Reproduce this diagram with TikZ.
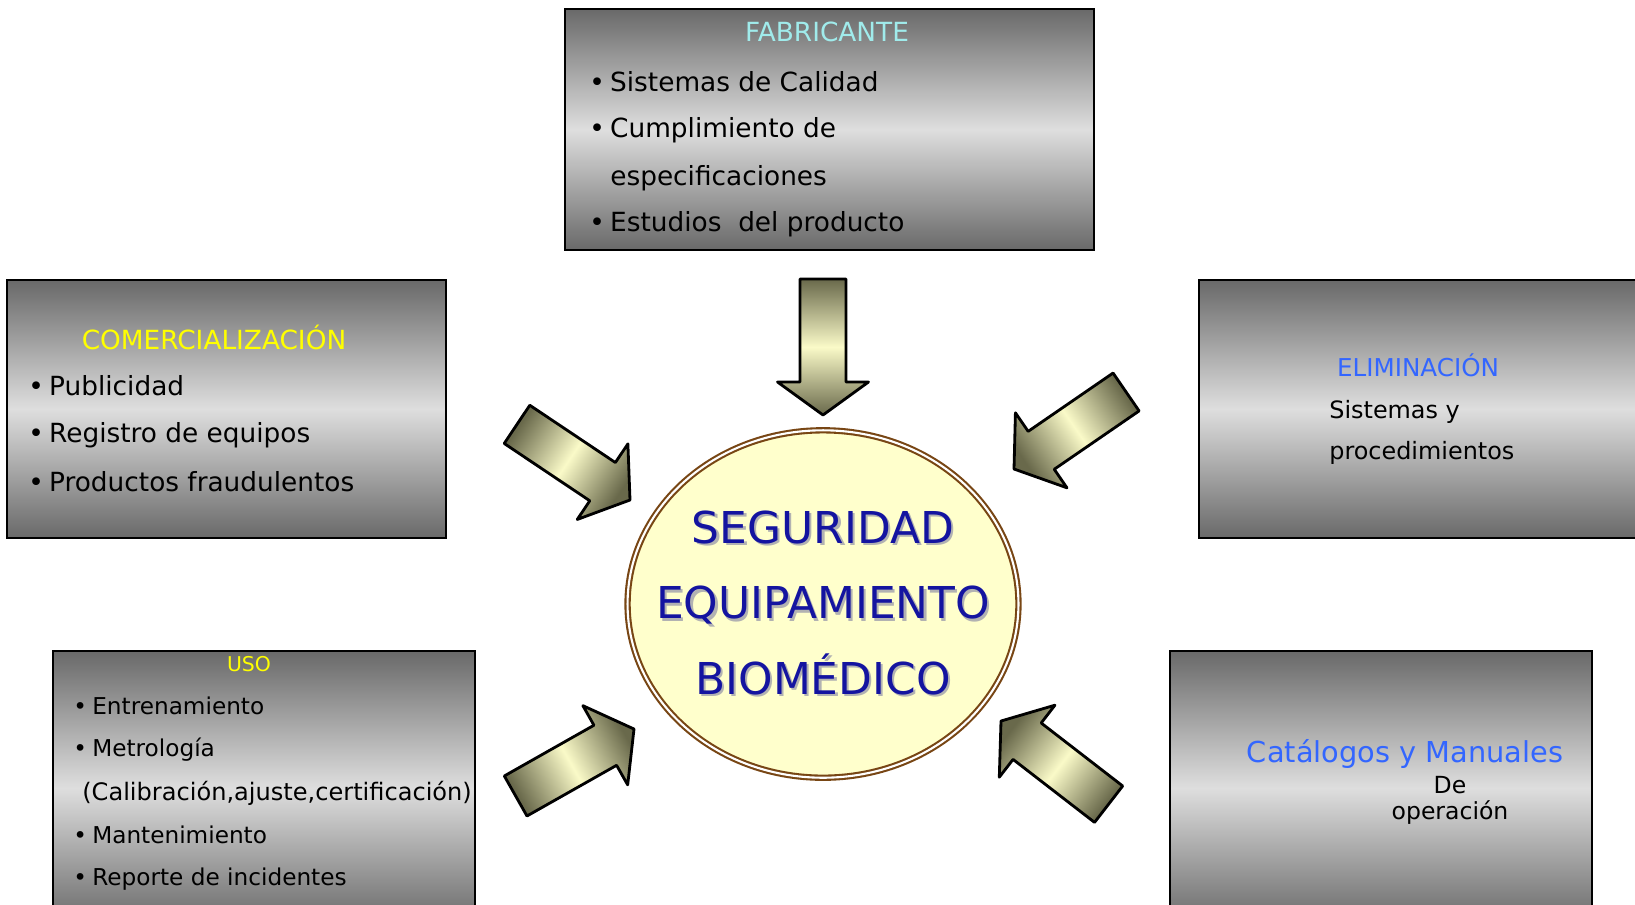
\documentclass[tikz,border=0pt]{standalone}
\usepackage{fontspec}
\setmainfont{DejaVu Sans}
\usepackage{xcolor}
\usepackage{tikz}
\usetikzlibrary{shapes.geometric}

\definecolor{cajaosc}{RGB}{105,105,105}
\definecolor{cajaclara}{RGB}{222,222,222}
\definecolor{fabtit}{RGB}{160,235,235}
\definecolor{amarillo}{RGB}{255,255,0}
\definecolor{azultit}{RGB}{51,102,255}
\definecolor{centroazul}{RGB}{20,20,160}
\definecolor{elipsefondo}{RGB}{255,255,204}
\definecolor{elipseborde}{RGB}{120,70,20}
\definecolor{flechaosc}{RGB}{105,105,75}
\definecolor{flechaclara}{RGB}{250,250,200}

\newcommand{\sombra}[1]{\makebox[0pt][l]{\raisebox{-1.3pt}{\hspace{1.3pt}\textcolor{gray!60}{#1}}}#1}
\newcommand{\vin}{•\kern3pt}

\tikzset{
  caja/.style={draw=black, line width=0.9pt, top color=cajaosc, bottom color=cajaosc,
    middle color=cajaclara, inner sep=0pt},
  linea/.style={anchor=west, inner sep=0pt, font=\fontsize{15}{18}\selectfont},
  lineachica/.style={anchor=west, inner sep=0pt, font=\fontsize{13.2}{16}\selectfont},
  titulo/.style={inner sep=0pt, font=\fontsize{15}{18}\selectfont},
  pics/flecha/.style={code={
    \shade[draw=black, line width=1.6pt, line join=round, top color=flechaosc,
      bottom color=flechaosc, middle color=flechaclara, shading angle=#1]
      (-136,-23) -- (-33,-23) -- (-33,-45.5) -- (0,0) -- (-33,45.5) -- (-33,23)
      -- (-136,23) -- cycle;
  }}
}

\begin{document}
\begin{tikzpicture}[x=0.02cm,y=-0.02cm]
\useasboundingbox (0,0) rectangle (1635,904);

% cajas
\node[caja, minimum width=10.58cm, minimum height=4.82cm] (fab) at (829.5,129.5) {};
\node[caja, minimum width=8.78cm, minimum height=5.16cm] (com) at (226.5,409) {};
\node[caja, minimum width=9.02cm, minimum height=5.16cm] (eli) at (1424.5,409) {};
\node[caja, minimum width=8.44cm, minimum height=5.48cm] (uso) at (264,788) {};
\node[caja, minimum width=8.44cm, minimum height=5.48cm] (cat) at (1381,788) {};

% fabricante
\node[titulo, text=fabtit] (fabT) at (827,32) {FABRICANTE};
\node[linea] (fab1) at (589,82) {\vin Sistemas de Calidad};
\node[linea] (fab2) at (589,130) {\vin Cumplimiento de};
\node[linea] (fab3) at (610,178) {especificaciones};
\node[linea] (fab4) at (589,224) {\vin Estudios\ \ del producto};

% comercializacion
\node[titulo, text=amarillo] (comT) at (214,337) {COMERCIALIZACIÓN};
\node[linea] (com1) at (28,386) {\vin Publicidad};
\node[linea] (com2) at (28,435) {\vin Registro de equipos};
\node[linea] (com3) at (28,482) {\vin Productos fraudulentos};

% eliminacion
\node[titulo, text=azultit, font=\fontsize{14}{17}\selectfont] (eliT) at (1418,365) {ELIMINACIÓN};
\node[lineachica, font=\fontsize{13.6}{16}\selectfont] (eli1) at (1329,412) {Sistemas y};
\node[lineachica, font=\fontsize{13.6}{16}\selectfont] (eli2) at (1329,453) {procedimientos};

% uso
\node[titulo, text=amarillo, font=\fontsize{11.6}{14}\selectfont] (usoT) at (249,664) {USO};
\node[lineachica] (uso1) at (73,706) {\vin Entrenamiento};
\node[lineachica] (uso2) at (73,750) {\vin Metrología};
\node[lineachica, font=\fontsize{13.7}{16}\selectfont] (uso3) at (82,793) {(Calibración,ajuste,certificación)};
\node[lineachica] (uso4) at (73,835) {\vin Mantenimiento};
\node[lineachica] (uso5) at (73,879) {\vin Reporte de incidentes};

% catalogos
\node[titulo, text=azultit, font=\fontsize{16.4}{19}\selectfont] (catT) at (1405,754) {Catálogos y Manuales};
\node[titulo, font=\fontsize{13.4}{16}\selectfont] (cat1) at (1450,785) {De};
\node[titulo, font=\fontsize{13.4}{16}\selectfont] (cat2) at (1450,813) {operación};

% centro
\node[ellipse, draw=elipseborde, line width=1.2pt, double=white, double distance=1.2pt,
  fill=elipsefondo, inner sep=0pt, minimum width=7.82cm, minimum height=6.95cm] (centro) at (823,604) {};
\node[align=center, text=centroazul, inner sep=0pt, font=\fontsize{25}{43}\selectfont]
  (centroT) at (centro.center) {\sombra{SEGURIDAD}\\\sombra{EQUIPAMIENTO}\\\sombra{BIOMÉDICO}};

% flechas
\coordinate (pFab) at (823,415);
\coordinate (pCom) at (630,500);
\coordinate (pEli) at (1014,469);
\coordinate (pUso) at (634,729);
\coordinate (pCat) at (1001,721);
\pic[rotate=-90] at (pFab) {flecha=0};
\pic[rotate=-33.8] at (pCom) {flecha=56.2};
\pic[rotate=-145.5] at (pEli) {flecha=-55.5};
\pic[rotate=29.5] at (pUso) {flecha=119.5};
\pic[rotate=142.3] at (pCat) {flecha=232.3};

\end{tikzpicture}
\end{document}
